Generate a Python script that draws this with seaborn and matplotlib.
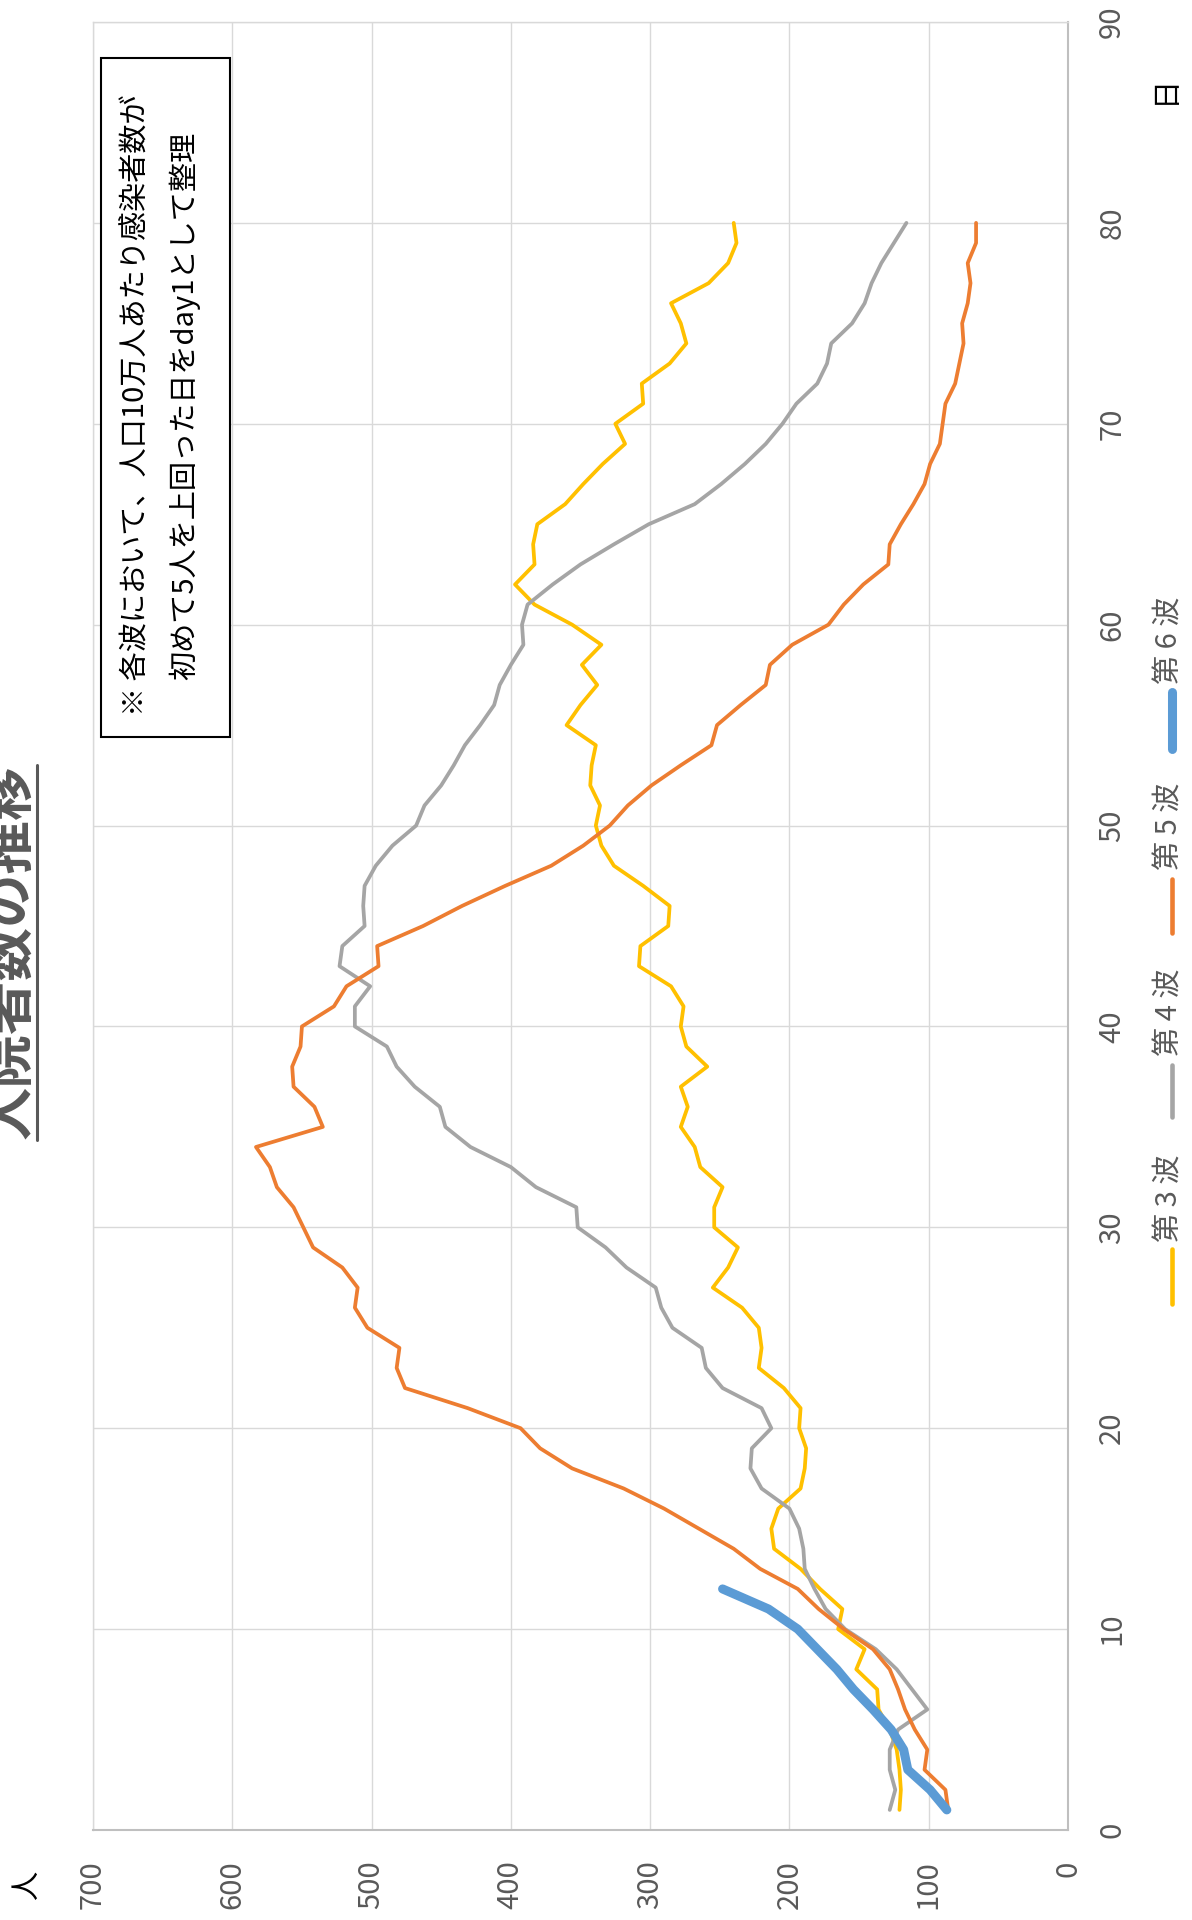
import matplotlib
matplotlib.use('Agg')
import matplotlib.pyplot as plt
from matplotlib.lines import Line2D
from matplotlib.patches import Rectangle
import seaborn as sns

# data: 入院者数 per day since day1
days_3 = list(range(1, 81))
wave_3 = [121, 120, 121, 123, 128, 136, 137, 152, 146, 165,
          162, 178, 192, 211, 213, 208, 192, 189, 188, 193,
          192, 204, 222, 220, 222, 234, 255, 244, 237, 254,
          254, 248, 264, 268, 278, 273, 278, 259, 274, 278,
          276, 285, 308, 307, 287, 286, 305, 326, 335, 339,
          336, 343, 342, 339, 360, 350, 338, 349, 335, 356,
          383, 397, 383, 384, 381, 361, 348, 334, 318, 325,
          305, 306, 286, 274, 278, 285, 258, 244, 238, 240]

days_4 = list(range(1, 81))
wave_4 = [128, 124, 128, 128, 122, 101, 112, 123, 138, 160,
          174, 182, 189, 190, 193, 200, 220, 228, 227, 213,
          220, 248, 260, 263, 284, 292, 296, 317, 332, 352,
          353, 382, 400, 429, 447, 451, 469, 482, 489, 512,
          512, 501, 523, 521, 505, 506, 505, 497, 485, 468,
          462, 450, 441, 433, 422, 412, 408, 400, 391, 392,
          388, 370, 350, 326, 301, 268, 249, 232, 217, 205,
          195, 180, 173, 170, 155, 146, 141, 134, 125, 116]

days_5 = list(range(1, 81))
wave_5 = [86, 88, 103, 101, 110, 117, 122, 128, 140, 161,
          179, 194, 221, 240, 265, 290, 319, 356, 379, 393,
          431, 476, 482, 480, 503, 512, 510, 521, 542, 549,
          556, 568, 573, 583, 535, 541, 556, 557, 551, 550,
          527, 518, 495, 496, 463, 435, 404, 371, 348, 329,
          316, 299, 278, 256, 252, 235, 217, 214, 198, 172,
          161, 147, 129, 128, 120, 111, 103, 99, 92, 90,
          88, 81, 78, 75, 76, 72, 70, 72, 66, 66]

days_6 = list(range(1, 13))
wave_6 = [87, 99, 115, 118, 127, 140, 154, 166, 180, 194, 215, 248]

labels = ['第 3 波', '第 4 波', '第 5 波', '第 6 波']
colors = ['#FFC000', '#A5A5A5', '#ED7D31', '#5B9BD5']
people_ticks = list(range(0, 701, 100))
day_ticks = list(range(0, 91, 10))

W, H = 1192, 1920
def fx(x):
    return x / W
def fy(y):
    return 1 - y / H

sns.set_theme(style='whitegrid')
plt.rcParams['font.family'] = ['Noto Sans CJK JP', 'DejaVu Sans']

fig = plt.figure(figsize=(W / 100, H / 100), dpi=100)
ax = fig.add_axes([fx(93), fy(1830), fx(1068) - fx(93), fy(22) - fy(1830)])

series = [(days_3, wave_3, 2.7), (days_4, wave_4, 2.7),
          (days_5, wave_5, 2.7), (days_6, wave_6, 6.5)]
for (d, v, lw), c in zip(series, colors):
    sns.lineplot(x=v, y=d, orient='y', sort=False, estimator=None,
                 color=c, lw=lw, ax=ax, legend=False,
                 solid_capstyle='round', solid_joinstyle='round')

ax.set_xlim(700, 0)
ax.set_ylim(0, 90)
ax.set_xlabel('')
ax.set_ylabel('')
ax.set_xticks(people_ticks)
ax.set_xticklabels([str(v) for v in people_ticks], rotation=90,
                   ha='center', va='top', color='#595959', fontsize=21)
ax.set_yticks(day_ticks)
ax.set_yticklabels([str(v) for v in day_ticks], rotation=90,
                   ha='left', va='center', color='#595959', fontsize=21)
ax.yaxis.tick_right()
ax.tick_params(axis='x', length=0, pad=22)
ax.tick_params(axis='y', length=0, pad=21)
ax.grid(True, color='#D9D9D9', lw=1.0)
ax.set_axisbelow(True)
for s in ['top', 'left']:
    ax.spines[s].set_color('#D9D9D9')
    ax.spines[s].set_linewidth(1.0)
for s in ['right', 'bottom']:
    ax.spines[s].set_color('#BFBFBF')
    ax.spines[s].set_linewidth(1.5)

# title (rotated, partly outside the picture as in the original)
fig.text(fx(11), fy(952), '入院者数の推移', rotation=90, fontsize=38.5,
         fontweight='bold', color='#595959', ha='center', va='center')
fig.lines.append(Line2D([fx(37), fx(37)], [fy(765), fy(1140)],
                        transform=fig.transFigure, color='#595959', lw=2.2))

# unit labels
fig.text(fx(27), fy(1885), '人', rotation=90, fontsize=21, color='black',
         ha='center', va='center')
fig.text(fx(1165), fy(89), '日', rotation=90, fontsize=21, color='black',
         ha='center', va='center')

# note box
fig.patches.append(Rectangle((fx(101), fy(737)), fx(230) - fx(101), fy(58) - fy(737),
                             transform=fig.transFigure, facecolor='white',
                             edgecolor='black', lw=1.5, zorder=3))
fig.text(fx(137), fy(405), '※ 各波において、人口10万人あたり感染者数が', rotation=90,
         fontsize=21, color='black', ha='center', va='center', zorder=4)
fig.text(fx(185), fy(406), '初めて5人を上回った日をday1として整理', rotation=90,
         fontsize=21, color='black', ha='center', va='center', zorder=4)

# legend drawn by hand, rotated like the rest
leg_text_y = [1198, 1012, 826, 640]
leg_line_y = [(1249, 1304), (1065, 1117), (879, 933), (692, 749)]
leg_lw = [3.3, 3.3, 3.3, 6.5]
for lab, c, ty, (y0, y1), lw in zip(labels, colors, leg_text_y, leg_line_y, leg_lw):
    fig.lines.append(Line2D([fx(1172), fx(1172)], [fy(y0), fy(y1)],
                            transform=fig.transFigure, color=c, lw=lw,
                            solid_capstyle='round'))
    fig.text(fx(1170), fy(ty), lab, rotation=90, fontsize=21, color='#595959',
             ha='center', va='center')

fig.savefig('out.png', dpi=100)
